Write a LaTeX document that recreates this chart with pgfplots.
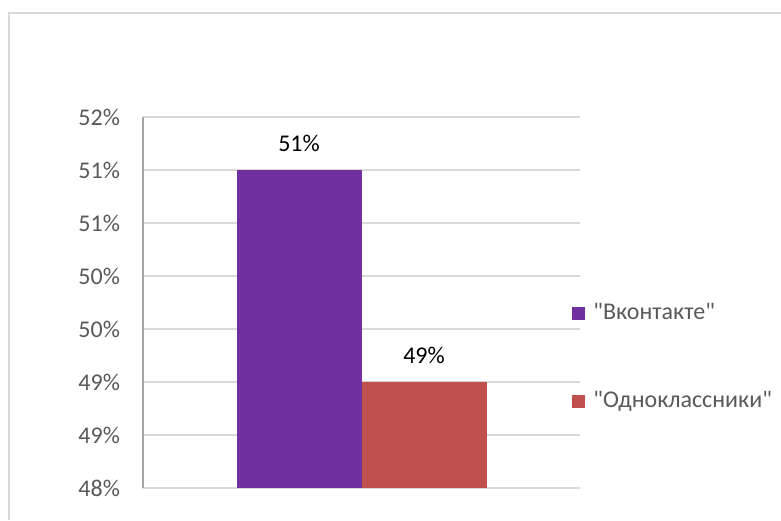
\documentclass[border=0pt]{standalone}
\usepackage{pgfplots}
\pgfplotsset{compat=1.18}
\usepackage{fontspec}
\setmainfont{Carlito}
\newfontfamily\qfont{Carlito}
\definecolor{vk}{HTML}{7030A0}
\definecolor{ok}{HTML}{C0504D}
\definecolor{tickc}{HTML}{595959}
\definecolor{gridc}{HTML}{D9D9D9}
\definecolor{yaxc}{HTML}{A6A6A6}
\begin{document}
\begin{tikzpicture}
\path[use as bounding box] (0pt,0pt) rectangle (390.5pt,260pt);
\draw[gridc, line width=1pt] (4.5pt,0pt) -- (4.5pt,253.5pt) -- (390.5pt,253.5pt);
\begin{axis}[
  at={(71.5pt,16pt)}, anchor=south west,
  scale only axis, width=218.5pt, height=185.5pt,
  xmin=-0.5, xmax=0.5, ymin=48, ymax=51.5,
  xtick=\empty,
  ytick={48,48.5,49,49.5,50,50.5,51,51.5},
  yticklabels={48\%,49\%,49\%,50\%,50\%,51\%,51\%,52\%},
  major tick length=0pt,
  axis x line=bottom, axis y line=left,
  axis line style={-},
  x axis line style={gridc, line width=1pt},
  y axis line style={yaxc, line width=1pt},
  ymajorgrids, grid style={gridc, line width=0.75pt},
  yticklabel style={tickc, font=\fontsize{12}{14}\selectfont, xshift=-8pt},
  /pgf/number format/assume math mode=true,
  ybar=0pt, bar width=62.5pt,
  nodes near coords={\pgfmathprintnumber{\pgfplotspointmeta}\%},
  every node near coord/.append style={black, font=\fontsize{12}{14}\selectfont, inner sep=0pt, yshift=9pt},
  legend style={draw=none, fill=none, inner sep=0pt, at={(0.9817,0.5044)}, anchor=north west,
    font=\fontsize{12}{14}\selectfont, text=tickc, row sep=32pt,
    nodes={text height=9pt, text depth=3pt, inner sep=0pt},
    /tikz/every odd column/.append style={column sep=4pt}},
  legend cell align=left,
  legend image code/.code={\fill[#1, draw=none] (0pt,-3.25pt) rectangle (6.5pt,3.25pt);},
]
\addplot[fill=vk, draw=none] coordinates {(0,51)};
\addlegendentry{{\qfont "Вконтакте"}}
\addplot[fill=ok, draw=none] coordinates {(0,49)};
\addlegendentry{{\qfont "Одноклассники"}}
\end{axis}
\end{tikzpicture}
\end{document}
